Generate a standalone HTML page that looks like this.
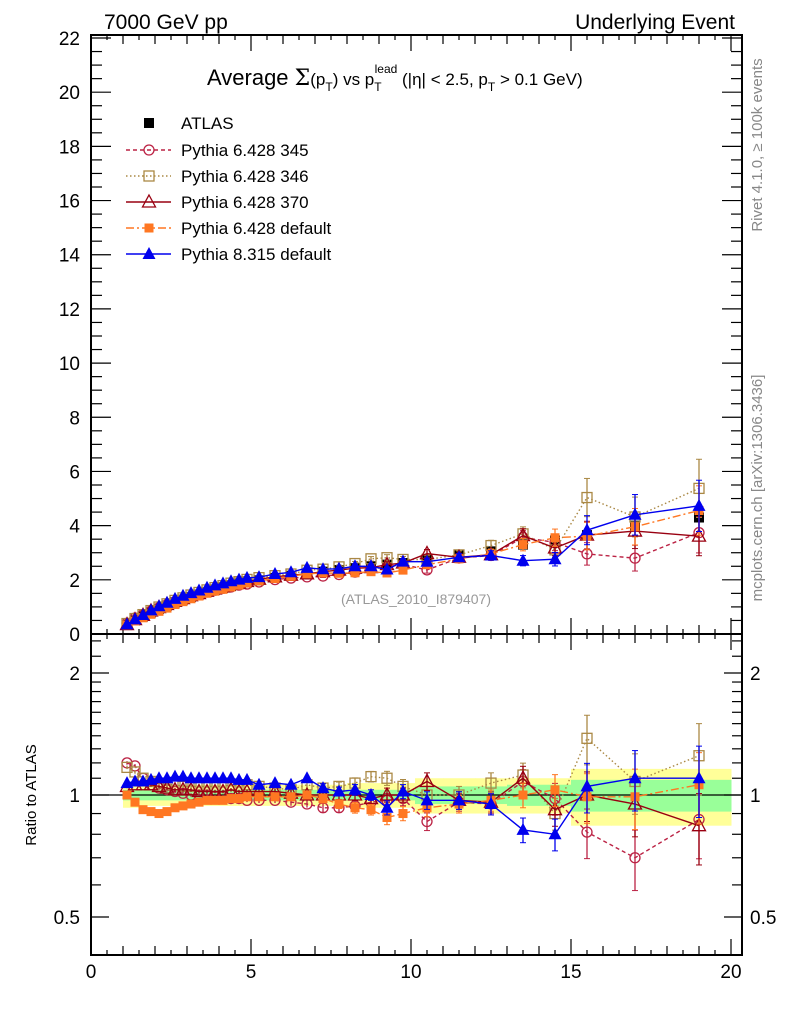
<!DOCTYPE html>
<html><head><meta charset="utf-8"><style>
body{margin:0;background:#fff;}
svg{display:block;font-family:"Liberation Sans",sans-serif;}
</style></head><body>
<svg id="c" width="786" height="1024" viewBox="0 0 786 1024">
<text x="104" y="29" font-size="21">7000 GeV pp</text>
<text x="735" y="29" font-size="21" text-anchor="end">Underlying Event</text>
<text transform="translate(762,145) rotate(-90)" font-size="15" fill="#888" text-anchor="middle">Rivet 4.1.0, ≥ 100k events</text>
<text transform="translate(762,488) rotate(-90)" font-size="15" fill="#888" text-anchor="middle">mcplots.cern.ch [arXiv:1306.3436]</text>
<text x="207" y="85" font-size="22">Average <tspan font-family="DejaVu Serif,serif">Σ</tspan><tspan font-size="17">(p</tspan><tspan font-size="12" dy="6">T</tspan><tspan font-size="17" dy="-6">)</tspan><tspan font-size="17"> vs p</tspan><tspan font-size="12" dy="6">T</tspan><tspan font-size="12" dx="-7" dy="-18">lead</tspan><tspan font-size="17" dy="12"> (|η| &lt; 2.5, p</tspan><tspan font-size="12" dy="6">T</tspan><tspan font-size="17" dy="-6"> &gt; 0.1 GeV)</tspan></text>
<text x="416" y="604" font-size="14" fill="#999" text-anchor="middle">(ATLAS_2010_I879407)</text>
<text transform="translate(36,795) rotate(-90)" font-size="15" text-anchor="middle">Ratio to ATLAS</text>
<g id="g"></g>
</svg>
<script>
const xBins=[1.125,1.375,1.625,1.875,2.125,2.375,2.625,2.875,3.125,3.375,3.625,3.875,4.125,4.375,4.625,4.875,5.25,5.75,6.25,6.75,7.25,7.75,8.25,8.75,9.25,9.75,10.5,11.5,12.5,13.5,14.5,15.5,17,19];
const atlas=[0.33,0.50,0.65,0.80,0.93,1.05,1.17,1.27,1.37,1.46,1.55,1.63,1.70,1.77,1.84,1.90,1.98,2.07,2.15,2.22,2.30,2.36,2.43,2.50,2.56,2.62,2.75,2.92,3.05,3.30,3.45,3.65,4.0,4.3];
const statBand=[0.03,0.03,0.03,0.03,0.03,0.03,0.03,0.03,0.03,0.03,0.03,0.03,0.03,0.03,0.03,0.03,0.03,0.03,0.03,0.03,0.03,0.03,0.03,0.03,0.03,0.03,0.05,0.05,0.05,0.06,0.06,0.09,0.09,0.09];
const totBand=[0.07,0.07,0.07,0.06,0.06,0.06,0.06,0.06,0.06,0.06,0.06,0.06,0.06,0.06,0.06,0.06,0.06,0.06,0.06,0.06,0.06,0.06,0.07,0.07,0.07,0.07,0.1,0.1,0.1,0.1,0.1,0.16,0.16,0.16];
const mcErr=[0.01,0.01,0.01,0.01,0.01,0.01,0.01,0.01,0.01,0.01,0.01,0.01,0.01,0.01,0.01,0.01,0.015,0.015,0.02,0.02,0.025,0.025,0.03,0.03,0.04,0.04,0.05,0.05,0.06,0.07,0.09,0.14,0.17,0.2];
const r345=[1.2,1.18,1.1,1.06,1.04,1.03,1.02,1.01,1.0,1.0,1.0,0.99,0.99,0.98,0.98,0.97,0.97,0.97,0.96,0.95,0.93,0.93,0.94,0.96,0.97,0.98,0.86,0.96,0.95,1.08,0.98,0.81,0.70,0.87];
const r346=[1.17,1.14,1.1,1.08,1.07,1.06,1.06,1.05,1.05,1.05,1.05,1.05,1.05,1.06,1.05,1.06,1.05,1.04,1.03,1.06,1.04,1.05,1.07,1.11,1.10,1.05,1.0,1.0,1.07,1.12,0.90,1.38,1.08,1.25];
const r370=[1.05,1.06,1.06,1.06,1.05,1.04,1.03,1.03,1.03,1.02,1.02,1.02,1.02,1.03,1.02,1.02,1.02,1.02,1.01,1.0,1.0,1.0,1.0,0.98,1.0,1.0,1.08,0.97,0.96,1.10,0.92,1.0,0.95,0.84];
const rP6=[1.0,0.96,0.92,0.91,0.90,0.91,0.93,0.94,0.95,0.96,0.97,0.97,0.97,0.98,0.98,0.99,0.99,0.99,0.99,1.0,0.98,0.95,0.93,0.92,0.88,0.90,0.93,0.95,0.97,1.0,1.03,0.99,0.99,1.06];
const rP8=[1.07,1.08,1.08,1.09,1.10,1.10,1.11,1.11,1.10,1.10,1.10,1.10,1.10,1.10,1.09,1.09,1.06,1.07,1.06,1.10,1.04,1.02,1.03,1.0,0.93,1.02,0.97,0.97,0.95,0.82,0.80,1.05,1.10,1.10];
const yTicksMain=[0,2,4,6,8,10,12,14,16,18,20,22];
const xTicks=[0,5,10,15,20];
const rTicks=[0.5,1,2];

const NS="http://www.w3.org/2000/svg", G=document.getElementById('g');
function el(t,a,p){const e=document.createElementNS(NS,t);for(const k in a)e.setAttribute(k,a[k]);(p||G).appendChild(e);return e;}
const L=91,R=742,T=35,MB=634,RB=955;
const X=v=>L+v*32;
const Y=v=>MB-v*(MB-38)/22;
const YR=v=>795-Math.log2(v)*122;
function edges(i){const lo=i==0?1.0:(xBins[i-1]+xBins[i])/2;const hi=i==xBins.length-1?20:(xBins[i]+xBins[i+1])/2;return[lo,hi];}

const bands=el('g',{});


xBins.forEach((x,i)=>{const[a,b]=edges(i);
 const y1=el('rect',{x:X(a),y:YR(1+totBand[i]),width:X(b)-X(a)+0.5,height:YR(1-totBand[i])-YR(1+totBand[i]),fill:'#ffff99'},bands);
 
 
 const g1=el('rect',{x:X(a),y:YR(1+statBand[i]),width:X(b)-X(a)+0.5,height:YR(1-statBand[i])-YR(1+statBand[i]),fill:'#99ff99'},bands);
 
 
});
const one=el('line',{x1:L,x2:R,y1:YR(1),y2:YR(1),stroke:'#000','stroke-width':1.2});



const f1=el('rect',{x:L,y:T,width:R-L,height:MB-T,fill:'none',stroke:'#000','stroke-width':2});


const f2=el('rect',{x:L,y:MB,width:R-L,height:RB-MB,fill:'none',stroke:'#000','stroke-width':2});



const ax=el('g',{stroke:'#000','stroke-width':1.2});


for(let v=0;v<=22.01;v+=0.5){const maj=Math.abs(v%2)<0.01;const len=maj?20:11;const y=Y(v);
 el('line',{x1:L,x2:L+len,y1:y,y2:y},ax);el('line',{x1:R,x2:R-len,y1:y,y2:y},ax);}
for(let v=0;v<=20.3;v+=0.5){const maj=Math.abs(v%5)<0.01,mid=Math.abs(v%1)<0.01;const len=maj?16:(mid?9:5);const x=X(v);
 el('line',{x1:x,x2:x,y1:MB,y2:MB-len},ax);el('line',{x1:x,x2:x,y1:T,y2:T+len},ax);
 el('line',{x1:x,x2:x,y1:MB,y2:MB+len},ax);el('line',{x1:x,x2:x,y1:RB,y2:RB-len},ax);}
[0.4,0.5,0.6,0.7,0.8,0.9,1,1.1,1.2,1.3,1.4,1.5,1.6,1.7,1.8,1.9,2,2.2,2.4].forEach(v=>{const maj=rTicks.includes(v);const len=maj?18:10;const y=YR(v);if(y<MB||y>RB)return;
 el('line',{x1:L,x2:L+len,y1:y,y2:y},ax);el('line',{x1:R,x2:R-len,y1:y,y2:y},ax);});
yTicksMain.forEach(v=>{const t=el('text',{x:80,y:Y(v)+7,'font-size':19,'text-anchor':'end'});t.textContent=v;
 
 });
xTicks.forEach(v=>{const t=el('text',{x:X(v),y:978,'font-size':19,'text-anchor':'middle'});t.textContent=v;
 
 });
rTicks.forEach(v=>{[[80,'end'],[750,'start']].forEach(([x,an])=>{const t=el('text',{x:x,y:YR(v)+7,'font-size':19,'text-anchor':an});t.textContent=v;
 
 });});

function marker(g,type,x,y,c){
 if(type=='sq') el('rect',{x:x-5,y:y-5,width:10,height:10,fill:'#000'},g);
 else if(type=='circ') el('circle',{cx:x,cy:y,r:5,fill:'none',stroke:c,'stroke-width':1.3},g);
 else if(type=='osq') el('rect',{x:x-5,y:y-5,width:10,height:10,fill:'none',stroke:c,'stroke-width':1.3},g);
 else if(type=='otri') el('path',{d:`M${x} ${y-7}L${x+6.5} ${y+5}L${x-6.5} ${y+5}Z`,fill:'none',stroke:c,'stroke-width':1.3},g);
 else if(type=='fsq') el('rect',{x:x-4.5,y:y-4.5,width:9,height:9,fill:c},g);
 else if(type=='ftri') el('path',{d:`M${x} ${y-7}L${x+6.5} ${y+5}L${x-6.5} ${y+5}Z`,fill:c},g);
}
const series=[
 {name:'Pythia 6.428 345',r:r345,c:'#bb2244',m:'circ',dash:'4,3',key:'p345'},
 {name:'Pythia 6.428 346',r:r346,c:'#aa8844',m:'osq',dash:'1.5,2.5',key:'p346'},
 {name:'Pythia 6.428 370',r:r370,c:'#990011',m:'otri',dash:'',key:'p370'},
 {name:'Pythia 6.428 default',r:rP6,c:'#ff7722',m:'fsq',dash:'8,3,2,3',key:'p6def'},
 {name:'Pythia 8.315 default',r:rP8,c:'#0000ee',m:'ftri',dash:'',key:'p8def'}];

const dg=el('g',{});


xBins.forEach((x,i)=>{el('line',{x1:X(x),x2:X(x),y1:Y(atlas[i]*1.02),y2:Y(atlas[i]*0.98),stroke:'#000'},dg);marker(dg,'sq',X(x),Y(atlas[i]),'#000');});

series.forEach(s=>{
 [0,1].forEach(pi=>{
  const g=el('g',{});
  
  
  const fy=pi?(i=>YR(s.r[i])):(i=>Y(s.r[i]*atlas[i]));
  const fe=pi?((i,d)=>YR(s.r[i]*(1+d))):((i,d)=>Y(s.r[i]*atlas[i]*(1+d)));
  const pts=xBins.map((x,i)=>X(x)+','+fy(i)).join(' ');
  el('polyline',{points:pts,fill:'none',stroke:s.c,'stroke-width':1.4,'stroke-dasharray':s.dash},g);
  xBins.forEach((x,i)=>{const e=mcErr[i];
   el('line',{x1:X(x),x2:X(x),y1:fe(i,e),y2:fe(i,-e),stroke:s.c,'stroke-width':1.3},g);
   if(e>0.02){el('line',{x1:X(x)-3,x2:X(x)+3,y1:fe(i,e),y2:fe(i,e),stroke:s.c},g);el('line',{x1:X(x)-3,x2:X(x)+3,y1:fe(i,-e),y2:fe(i,-e),stroke:s.c},g);}
   marker(g,s.m,X(x),fy(i),s.c);});
 });
});

const lg=el('g',{});


const e0=el('g',{},lg);


marker(e0,'sq',149,123,'#000');
const t0=el('text',{x:181,y:129,'font-size':17},e0);t0.textContent='ATLAS';
series.forEach((s,k)=>{const y=150+k*26;const e=el('g',{},lg);
 
 
 el('line',{x1:126,x2:171,y1:y,y2:y,stroke:s.c,'stroke-width':1.4,'stroke-dasharray':s.dash},e);
 marker(e,s.m,149,y,s.c);
 const t=el('text',{x:181,y:y+6,'font-size':17},e);t.textContent=s.name;});
</script>
</body></html>
